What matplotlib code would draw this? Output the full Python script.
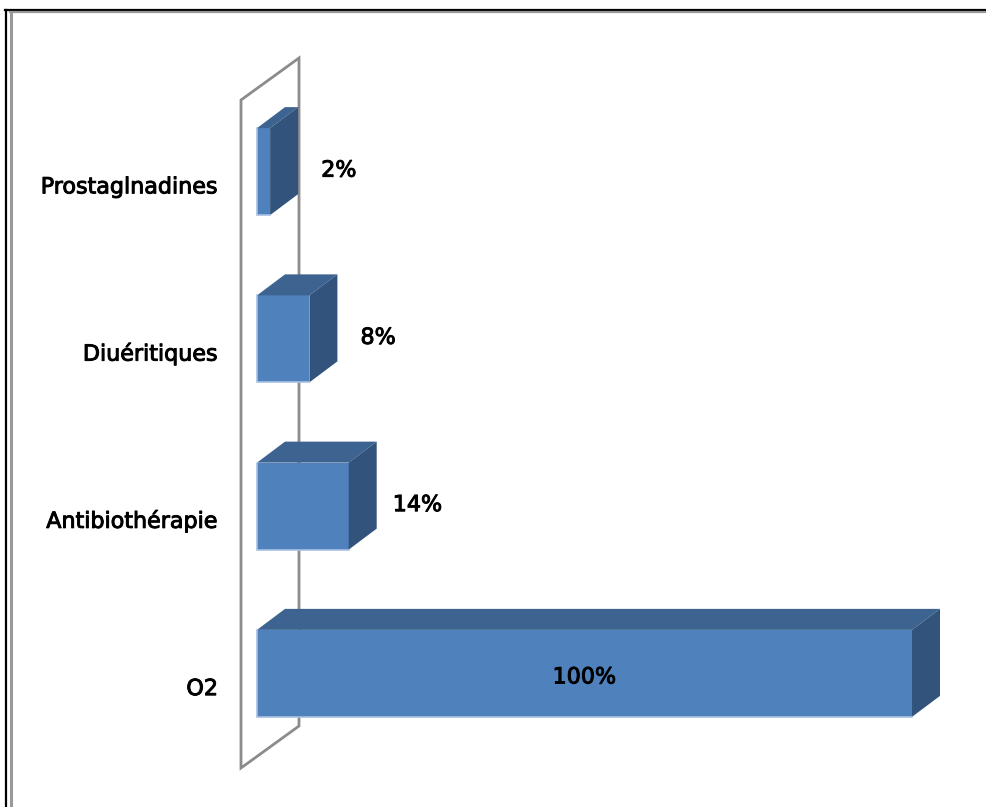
import matplotlib
matplotlib.use("Agg")
import matplotlib.pyplot as plt
import matplotlib.patheffects as pe
from matplotlib.patches import Polygon, Rectangle
from matplotlib.lines import Line2D

# Données du graphique (de bas en haut)
categories = ["O2", "Antibiothérapie", "Diuéritiques", "Prostaglnadines"]
values = [100, 14, 8, 2]
value_labels = ["100%", "14%", "8%", "2%"]

FRONT = "#4f81bd"
TOP = "#3d6390"
SIDE = "#32537b"
EDGE_LIGHT = "#a9c0e0"
WALL = "#8c8c8c"

plt.rcParams["font.family"] = ["DejaVu Sans"]
# trait un peu plus gras, comme le rendu d'origine
heavy = [pe.withStroke(linewidth=0.7, foreground="black")]

fig = plt.figure(figsize=(9.86, 8.07), dpi=100)
# zone de tracé : x 0..100 (%), y = index de catégorie
ax = fig.add_axes([257 / 986, 50 / 807, 655 / 986, 669 / 807])
ax.set_xlim(0, 100)
ax.set_ylim(-0.5, 3.5)
ax.axis("off")

# conversion pixels -> unités de données
px_x = 100 / 655
px_y = 4 / 669

bar_h = 87 * px_y
dx, dy = 28 * px_x, 21 * px_y          # profondeur des barres

# ---------------------------------------------------------
# Mur latéral (paroi gauche en perspective)
# ---------------------------------------------------------
wx0 = -16 * px_x
wy_top, wy_bot = 3.5 - 12 * px_y, -0.5 - 11 * px_y
wdx, wdy = 58 * px_x, 42 * px_y
wall = Polygon([(wx0, wy_bot), (wx0, wy_top), (wx0 + wdx, wy_top + wdy),
                (wx0 + wdx, wy_bot + wdy)], closed=True, fill=False,
               edgecolor=WALL, lw=2, clip_on=False, zorder=1)
ax.add_patch(wall)

# ---------------------------------------------------------
# Barres 3D
# ---------------------------------------------------------
for i, (cat, v, lab) in enumerate(zip(categories, values, value_labels)):
    y0, y1 = i - bar_h / 2, i + bar_h / 2
    ax.add_patch(Rectangle((0, y0), v, bar_h, facecolor=FRONT, edgecolor="none",
                           clip_on=False, zorder=3))
    ax.add_patch(Polygon([(0, y1), (v, y1), (v + dx, y1 + dy), (dx, y1 + dy)],
                         closed=True, facecolor=TOP, edgecolor="none",
                         clip_on=False, zorder=3))
    ax.add_patch(Polygon([(v, y0), (v, y1), (v + dx, y1 + dy), (v + dx, y0 + dy)],
                         closed=True, facecolor=SIDE, edgecolor="none",
                         clip_on=False, zorder=3))
    # liseré clair sur le bord gauche et le bas de la face avant
    ax.plot([0, 0, v], [y1, y0, y0], color=EDGE_LIGHT, lw=1.2,
            clip_on=False, zorder=4, solid_joinstyle="miter")

    # libellé de catégorie
    ax.text(-39 * px_x, i - 0.13, cat, ha="right", va="baseline",
            fontsize=16, color="black", path_effects=heavy)

    # étiquette de valeur : dans la barre si elle est longue
    if v > 50:
        ax.text(v / 2, i - 0.06, lab, ha="center", va="baseline",
                fontsize=16, color="black", zorder=5, path_effects=heavy)
    else:
        ax.text(v + 10.5, i - 0.03, lab, ha="center", va="baseline",
                fontsize=16, color="black", zorder=5, path_effects=heavy)

# ---------------------------------------------------------
# Cadre (double trait noir + gris, en haut et à gauche)
# ---------------------------------------------------------
H, W = 807, 986
fig.add_artist(Line2D([5 / W, 1], [1 - 9.5 / H, 1 - 9.5 / H], color="black",
                      lw=1.6, transform=fig.transFigure))
fig.add_artist(Line2D([6 / W, 6 / W], [0, 1 - 9.5 / H], color="black",
                      lw=1.6, transform=fig.transFigure))
fig.add_artist(Line2D([10 / W, 1], [1 - 12 / H, 1 - 12 / H], color="#999999",
                      lw=1.6, transform=fig.transFigure))
fig.add_artist(Line2D([11 / W, 11 / W], [0, 1 - 12 / H], color="#999999",
                      lw=2.2, transform=fig.transFigure))

fig.savefig("out.png", dpi=100)
